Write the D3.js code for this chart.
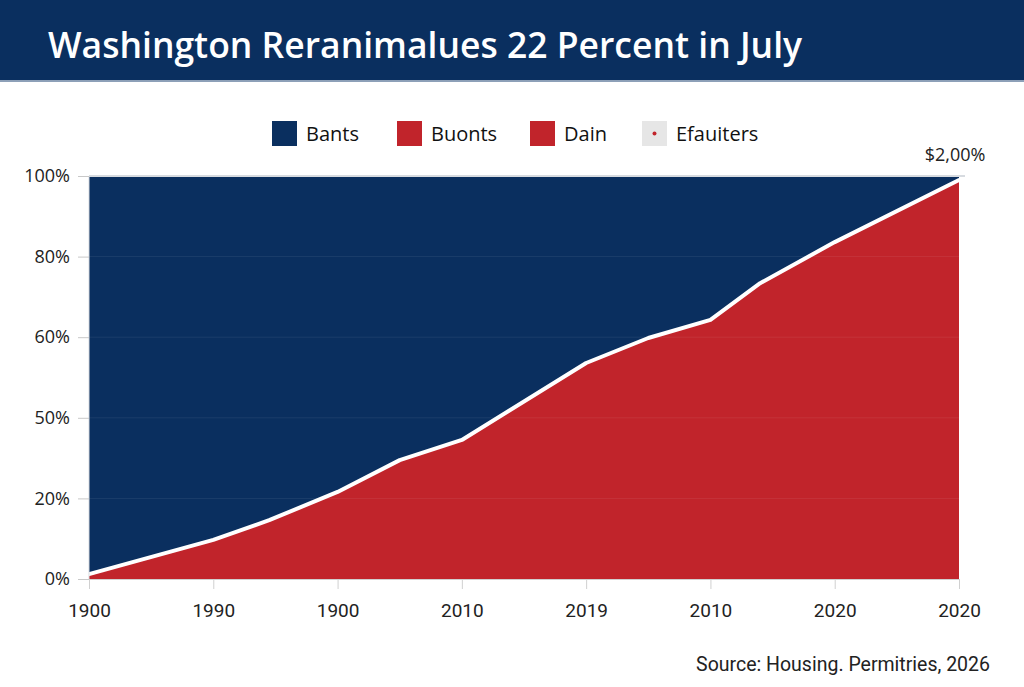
<!DOCTYPE html>
<html>
<head>
<meta charset="utf-8">
<script src="https://cdn.jsdelivr.net/npm/d3@7"></script>
<style>
  body { margin: 0; background: #fff; }
  svg { display: block; }
</style>
</head>
<body>
<script>
// chart data
const title = "Washington Reranimalues 22 Percent in July";
const xTickLabels = ["1900", "1990", "1900", "2010", "2019", "2010", "2020", "2020"];
const yTickLabels = ["0%", "20%", "50%", "60%", "80%", "100%"];
const legendNames = ["Bants", "Buonts", "Dain", "Efauiters"];
const legendColors = ["#0a2f5f", "#c1242b", "#c1242b", "#e6e6e6"];
// position along the x ticks (0..7) and share of the red series (0..100)
const sharePos = [0, 1, 1.45, 2, 2.5, 3, 4, 4.5, 5, 5.4, 6, 7];
const shareVal = [1.2, 9.7, 14.6, 21.6, 29.5, 34.5, 53.6, 59.8, 64.3, 73.4, 83.6, 99];
const endLabel = "$2,00%";
const source = "Source: Housing. Permitries, 2026";

const width = 1024, height = 687;
const margin = {top: 176, right: 65, bottom: 108, left: 89};

const svg = d3.select("body").append("svg")
    .attr("width", width)
    .attr("height", height);

// title band
svg.append("rect")
    .attr("width", width).attr("height", 80)
    .attr("fill", "#0a2f5f");
svg.append("rect")
    .attr("y", 80).attr("width", width).attr("height", 2)
    .attr("fill", "#8da0b8");
svg.append("text")
    .attr("x", 48).attr("y", 58)
    .attr("fill", "#fff")
    .style("font", "600 35.5px 'Open Sans', sans-serif")
    .text(title);

const x = d3.scaleLinear()
    .domain([0, xTickLabels.length - 1])
    .range([margin.left, width - margin.right]);
const y = d3.scaleLinear()
    .domain([0, 100])
    .range([height - margin.bottom, margin.top]);
const yTickVals = d3.range(yTickLabels.length).map(i => i * 100 / (yTickLabels.length - 1));

const data = sharePos.map((p, i) => ({p: p, v: shareVal[i]}));
const curve = d3.curveLinear;

// blue (top) and red (bottom) areas
svg.append("path")
    .datum(data)
    .attr("fill", "#0a2f5f")
    .attr("d", d3.area().x(d => x(d.p)).y0(y(100)).y1(d => y(d.v)).curve(curve));
svg.append("path")
    .datum(data)
    .attr("fill", "#c1242b")
    .attr("d", d3.area().x(d => x(d.p)).y0(y(0)).y1(d => y(d.v)).curve(curve));

// faint gridlines
svg.append("g")
    .selectAll("line")
    .data(yTickVals.slice(1, -1))
    .enter().append("line")
    .attr("x1", x(0)).attr("x2", x(7))
    .attr("y1", d => y(d)).attr("y2", d => y(d))
    .attr("stroke", "#ffffff").attr("stroke-opacity", 0.07);

// white divider line
svg.append("path")
    .datum(data)
    .attr("fill", "none")
    .attr("stroke", "#fff")
    .attr("stroke-width", 4)
    .attr("stroke-linecap", "round")
    .attr("stroke-linejoin", "round")
    .attr("d", d3.line().x(d => x(d.p)).y(d => y(d.v)).curve(curve));

// top border
svg.append("line")
    .attr("x1", x(0)).attr("x2", x(7) + 6)
    .attr("y1", y(100)).attr("y2", y(100))
    .attr("stroke", "#d7dbe0").attr("stroke-width", 2);
svg.append("line")
    .attr("x1", x(0)).attr("x2", x(0))
    .attr("y1", y(100)).attr("y2", y(0))
    .attr("stroke", "#d7dbe0").attr("stroke-width", 1);

// y axis
const yAxis = svg.append("g")
    .attr("transform", `translate(${margin.left},0)`)
    .call(d3.axisLeft(y).tickValues(yTickVals).tickFormat((d, i) => yTickLabels[i]).tickSize(11).tickPadding(8));
yAxis.select(".domain").remove();
yAxis.selectAll(".tick line").attr("stroke", "#c8c8c8");
yAxis.selectAll("text")
    .attr("fill", "#222")
    .style("font", "18px 'Open Sans', sans-serif");

// x axis
const xAxis = svg.append("g")
    .attr("transform", `translate(0,${y(0)})`)
    .call(d3.axisBottom(x).tickValues(d3.range(8)).tickFormat((d, i) => xTickLabels[i]).tickSize(10).tickPadding(15));
xAxis.select(".domain").attr("stroke", "#d0d0d0");
xAxis.selectAll(".tick line").attr("stroke", "#d0d0d0");
xAxis.selectAll("text")
    .attr("fill", "#222")
    .style("font", "19px Roboto, sans-serif");

// legend
const legendX = [272, 397, 530, 642];
const legend = svg.append("g");
legendNames.forEach((name, i) => {
    const g = legend.append("g").attr("transform", `translate(${legendX[i]},121)`);
    g.append("rect")
        .attr("width", 25).attr("height", 25)
        .attr("fill", legendColors[i]);
    if (i === 3) {
        g.append("circle").attr("cx", 12.5).attr("cy", 12.5).attr("r", 2).attr("fill", "#c1242b");
    }
    g.append("text")
        .attr("x", 34).attr("y", 20)
        .attr("fill", "#111")
        .style("font", "20px 'Open Sans', sans-serif")
        .text(name);
});

// end label
svg.append("text")
    .attr("x", x(7) - 4).attr("y", 161)
    .attr("text-anchor", "middle")
    .attr("fill", "#222")
    .style("font", "18px 'Open Sans', sans-serif")
    .text(endLabel);

// source
svg.append("text")
    .attr("x", 990).attr("y", 671)
    .attr("text-anchor", "end")
    .attr("fill", "#222")
    .style("font", "19.5px Roboto, sans-serif")
    .text(source);
</script>
</body>
</html>
